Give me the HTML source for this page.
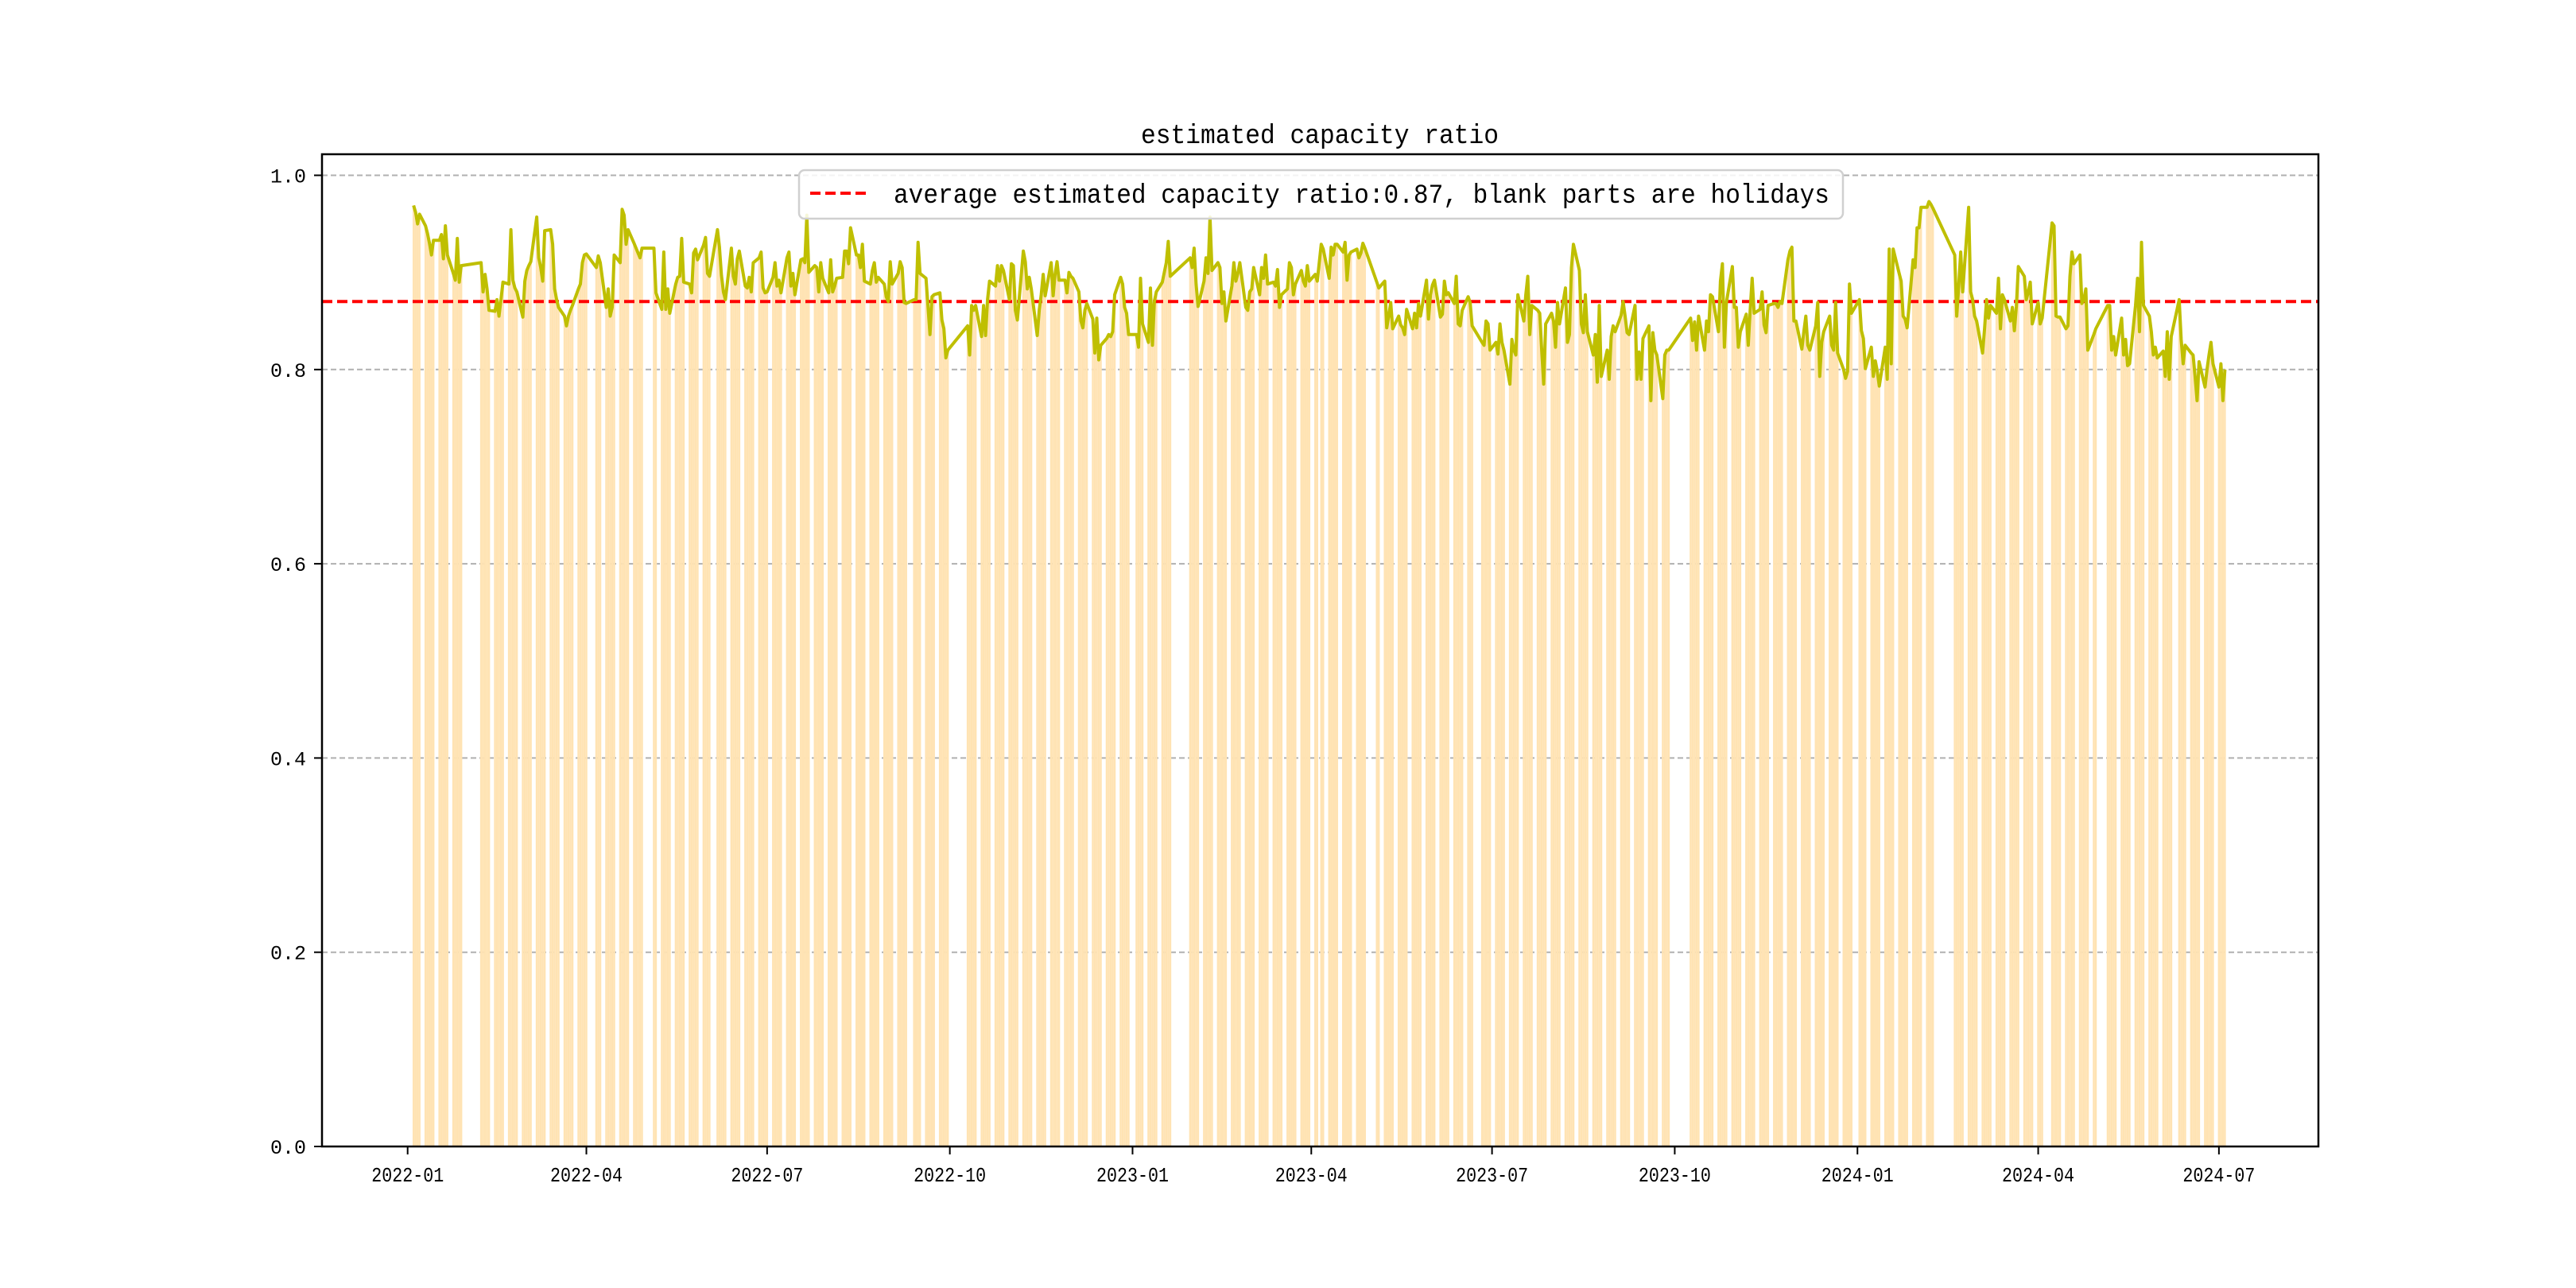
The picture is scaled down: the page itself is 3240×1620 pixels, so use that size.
<!DOCTYPE html>
<html><head><meta charset="utf-8"><style>
html,body{margin:0;padding:0;background:#fff;}
svg{display:block;}
</style></head><body>
<svg id="chart" width="3240" height="1620" viewBox="0 0 3240 1620" xmlns="http://www.w3.org/2000/svg" font-family="'Liberation Mono','WenQuanYi Zen Hei',monospace">
<rect x="0" y="0" width="3240" height="1620" fill="#fff"/>
<g id="grid"></g>
<g id="bars"></g>
<g id="avg"></g>
<g id="line"></g>
<rect x="405" y="194" width="2511" height="1248" fill="none" stroke="#000" stroke-width="2.5"/>
<g id="axes"></g>
<text x="1660" y="180" font-size="34" text-anchor="middle" textLength="450" lengthAdjust="spacingAndGlyphs">estimated capacity ratio</text>
<g>
<rect x="1005" y="214" width="1313" height="61" rx="7" fill="#fff" fill-opacity="0.85" stroke="#d0d0d0" stroke-width="2.5"/>
<line x1="1019" y1="243" x2="1092" y2="243" stroke="#ff0000" stroke-width="4" stroke-dasharray="13,6"/>
<text x="1124" y="255" font-size="34" textLength="1177" lengthAdjust="spacingAndGlyphs">average estimated capacity ratio:0.87, blank parts are holidays</text>
</g>
</svg>
<script>
const avgValue = 0.87;
const yTicks = [0.0, 0.2, 0.4, 0.6, 0.8, 1.0];
const yTickLabels = ["0.0", "0.2", "0.4", "0.6", "0.8", "1.0"];
const xTicks = ["2022-01-01","2022-04-01","2022-07-01","2022-10-01","2023-01-01","2023-04-01","2023-07-01","2023-10-01","2024-01-01","2024-04-01","2024-07-01"];
const xTickLabels = ["2022-01","2022-04","2022-07","2022-10","2023-01","2023-04","2023-07","2023-10","2024-01","2024-04","2024-07"];
const holidays = ["2022-01-03","2022-01-31","2022-02-01","2022-02-02","2022-02-03","2022-02-04","2022-04-04","2022-04-05","2022-05-02","2022-05-03","2022-05-04","2022-06-03","2022-09-12","2022-10-03","2022-10-04","2022-10-05","2022-10-06","2022-10-07","2023-01-02","2023-01-23","2023-01-24","2023-01-25","2023-01-26","2023-01-27","2023-04-05","2023-05-01","2023-05-02","2023-05-03","2023-06-22","2023-06-23","2023-09-29","2023-10-02","2023-10-03","2023-10-04","2023-10-05","2023-10-06","2024-01-01","2024-02-09","2024-02-12","2024-02-13","2024-02-14","2024-02-15","2024-02-16","2024-04-04","2024-04-05","2024-05-01","2024-05-02","2024-05-03","2024-06-10"];
const startDate = "2022-01-01";
const endDate = "2024-07-04";
const v2022_01 = [.969,.962,.95,.96,.948,.94,.93,.918,.933,.933,.939,.914,.948,.918,.899,.892,.935,.89,.907];
const v2022_02 = [.910,.88,.898,.883,.861,.86,.872,.855,.872,.89,.888,.944,.892,.884,.88,.854];
const v2022_03 = [.891,.902,.907,.911,.957,.915,.905,.891,.943,.944,.929,.883,.872,.864,.855,.845,.855,.861,.866,.883,.888,.910,.918];
const v2022_04 = [.919,.905,.917,.91,.864,.883,.855,.864,.918,.91,.965,.959,.929,.944,.93,.925,.92,.915,.925];
const v2022_05 = [.925,.879,.862,.921,.862,.883,.858,.888,.895,.896,.935,.89,.888,.879,.92,.924,.913,.928,.936];
const v2022_06 = [.899,.896,.944,.926,.897,.88,.872,.925,.896,.888,.914,.922,.886,.884,.895,.88,.91,.915,.921,.884,.879];
const v2022_07 = [.88,.895,.91,.886,.892,.879,.915,.921,.886,.899,.877,.913,.914,.91,.959,.9,.907,.905,.88,.91,.894];
const v2022_08 = [.879,.913,.88,.886,.894,.895,.922,.922,.909,.946,.918,.918,.905,.929,.891,.888,.902,.91,.89,.895,.888,.875,.87];
const v2022_09 = [.911,.888,.899,.911,.905,.869,.868,.872,.872,.931,.899,.894,.865,.836,.875,.877,.879,.851,.842,.812,.820];
const v2022_10 = [.845,.815,.866,.861,.866,.834,.866,.835,.872,.891,.886,.907,.891,.907,.902,.872];
const v2022_11 = [.909,.907,.861,.851,.922,.911,.883,.895,.883,.835,.861,.877,.898,.876,.910,.876,.898,.911,.892,.892,.879,.9];
const v2022_12 = [.896,.894,.88,.85,.843,.861,.868,.852,.817,.853,.81,.825,.832,.836,.834,.839,.877,.895,.888,.864,.858,.836];
const v2023_01 = [.836,.823,.894,.847,.828,.884,.825,.87,.88,.89,.9,.91,.932,.896,.915,.905];
const v2023_02 = [.925,.888,.865,.891,.915,.899,.957,.902,.91,.905,.868,.88,.85,.886,.91,.891,.899,.91,.864,.861];
const v2023_03 = [.88,.883,.905,.877,.905,.894,.918,.888,.89,.886,.903,.864,.877,.883,.91,.905,.877,.888,.902,.891,.886,.907,.891];
const v2023_04 = [.898,.891,.929,.924,.894,.926,.918,.929,.929,.921,.931,.892,.918,.921,.924,.915,.92,.93,.925];
const v2023_05 = [.89,.884,.891,.843,.855,.869,.842,.855,.846,.843,.836,.862,.842,.858,.843,.868,.855,.892,.852,.877];
const v2023_06 = [.887,.892,.854,.857,.891,.877,.879,.868,.896,.847,.845,.861,.875,.869,.845,.828,.825,.850,.847,.820];
const v2023_07 = [.828,.816,.847,.828,.820,.785,.831,.82,.815,.877,.85,.877,.896,.836,.866,.861,.858,.82,.785,.847,.858];
const v2023_08 = [.85,.823,.869,.847,.884,.828,.836,.905,.929,.902,.847,.838,.877,.839,.815,.836,.787,.866,.793,.82,.79,.834,.845];
const v2023_09 = [.839,.856,.87,.855,.838,.836,.866,.79,.818,.79,.832,.845,.768,.838,.82,.815,.77,.815,.82,.82];
const v2023_10 = [.853,.83,.849,.82,.855,.82,.85,.839,.877,.875,.839,.891,.909,.823,.869,.906,.864];
const v2023_11 = [.864,.823,.839,.857,.825,.861,.894,.858,.862,.88,.846,.838,.866,.868,.868,.864,.87,.868,.913,.922,.926,.85];
const v2023_12 = [.85,.821,.839,.855,.825,.82,.845,.869,.793,.828,.839,.855,.825,.82,.869,.817,.80,.791,.798,.888,.858];
const v2024_01 = [.872,.84,.832,.801,.823,.793,.809,.798,.783,.823,.79,.924,.806,.924,.899,.891,.855,.852,.843,.913,.905,.946];
const v2024_02 = [.946,.967,.967,.973,.97,.966,.918,.855,.886,.921,.880,.967,.88,.872,.855];
const v2024_03 = [.850,.817,.842,.872,.853,.866,.858,.894,.842,.877,.872,.85,.864,.84,.865,.906,.896,.872,.88,.89,.847];
const v2024_04 = [.869,.847,.853,.951,.948,.855,.854,.854,.842,.845,.896,.921,.909,.918,.868,.872,.883,.820,.836,.842];
const v2024_05 = [.866,.866,.82,.834,.815,.853,.815,.831,.804,.806,.866,.894,.839,.931,.866,.855,.839,.815,.823,.812];
const v2024_06 = [.819,.793,.839,.79,.834,.872,.831,.806,.825,.817,.815,.793,.768,.808,.782,.80,.815,.828,.806];
const v2024_07 = [.782,.806,.768,.80];
const monthKeys = ["2022-01","2022-02","2022-03","2022-04","2022-05","2022-06","2022-07","2022-08","2022-09","2022-10","2022-11","2022-12","2023-01","2023-02","2023-03","2023-04","2023-05","2023-06","2023-07","2023-08","2023-09","2023-10","2023-11","2023-12","2024-01","2024-02","2024-03","2024-04","2024-05","2024-06","2024-07"];
const monthValues = [v2022_01,v2022_02,v2022_03,v2022_04,v2022_05,v2022_06,v2022_07,v2022_08,v2022_09,v2022_10,v2022_11,v2022_12,v2023_01,v2023_02,v2023_03,v2023_04,v2023_05,v2023_06,v2023_07,v2023_08,v2023_09,v2023_10,v2023_11,v2023_12,v2024_01,v2024_02,v2024_03,v2024_04,v2024_05,v2024_06,v2024_07];

const NS = "http://www.w3.org/2000/svg";
const DAY = 86400000;
const t0 = Date.parse(startDate + "T00:00:00Z");
const PLOT_L = 405, PLOT_R = 2916, PLOT_T = 194, PLOT_B = 1442;
const X0 = 512.7, KX = 2.498, YK = 1221.5;
function xScale(ms){ return X0 + (ms - t0) / DAY * KX; }
function yScale(v){ return PLOT_B - v * YK; }
function iso(ms){ return new Date(ms).toISOString().slice(0,10); }
function mk(tag, attrs, parent){
  const el = document.createElementNS(NS, tag);
  for (const k in attrs) el.setAttribute(k, attrs[k]);
  parent.appendChild(el); return el;
}

const hol = new Set(holidays);
const byMonth = {};
const tEnd = Date.parse(endDate + "T00:00:00Z");
for (let t = t0; t <= tEnd; t += DAY) {
  const d = new Date(t).getUTCDay();
  const s = iso(t);
  if (d === 0 || d === 6 || hol.has(s)) continue;
  const m = s.slice(0,7);
  (byMonth[m] = byMonth[m] || []).push(t);
}
const points = [];
monthKeys.forEach((m, i) => {
  const days = byMonth[m] || [];
  const vals = monthValues[i];
  const n = Math.min(days.length, vals.length);
  for (let j = 0; j < n; j++) points.push([days[j], vals[j]]);
});

const grid = document.getElementById("grid");
yTicks.forEach((v) => {
  if (v === 0) return;
  const g = mk("line", {x1: PLOT_L, x2: PLOT_R, y1: yScale(v), y2: yScale(v), stroke: "#b0b0b0", "stroke-width": 2, "stroke-dasharray": "7,4"}, grid);
  
  
});

const barsG = document.getElementById("bars");
points.forEach(([t, v]) => {
  const x = xScale(t);
  const r = mk("rect", {x: x - KX/2, y: yScale(v), width: KX, height: PLOT_B - yScale(v), fill: "#ffe3b3"}, barsG);
  
  
});

const avgL = mk("line", {x1: PLOT_L, x2: PLOT_R, y1: yScale(avgValue), y2: yScale(avgValue), stroke: "#ff0000", "stroke-width": 4, "stroke-dasharray": "13,6"}, document.getElementById("avg"));



const d = points.map(([t, v], i) => (i ? "L" : "M") + xScale(t).toFixed(1) + "," + yScale(v).toFixed(1)).join("");
const path = mk("path", {d: d, fill: "none", stroke: "#bfbf00", "stroke-width": 4, "stroke-linejoin": "round"}, document.getElementById("line"));



const axes = document.getElementById("axes");
yTicks.forEach((v, i) => {
  const y = yScale(v);
  const tk = mk("line", {x1: PLOT_L - 10, x2: PLOT_L, y1: y, y2: y, stroke: "#000", "stroke-width": 2}, axes);
  
  
  const lb = mk("text", {x: PLOT_L - 20, y: y + 9, "font-size": 25, "text-anchor": "end"}, axes);
  lb.textContent = yTickLabels[i];
  
  
});
xTicks.forEach((s, i) => {
  const x = xScale(Date.parse(s + "T00:00:00Z"));
  const tk = mk("line", {x1: x, x2: x, y1: PLOT_B, y2: PLOT_B + 10, stroke: "#000", "stroke-width": 2}, axes);
  
  
  const lb = mk("text", {x: x, y: PLOT_B + 44, "font-size": 26, "text-anchor": "middle", textLength: 91, lengthAdjust: "spacingAndGlyphs"}, axes);
  lb.textContent = xTickLabels[i];
  
  
});
</script>
</body></html>
